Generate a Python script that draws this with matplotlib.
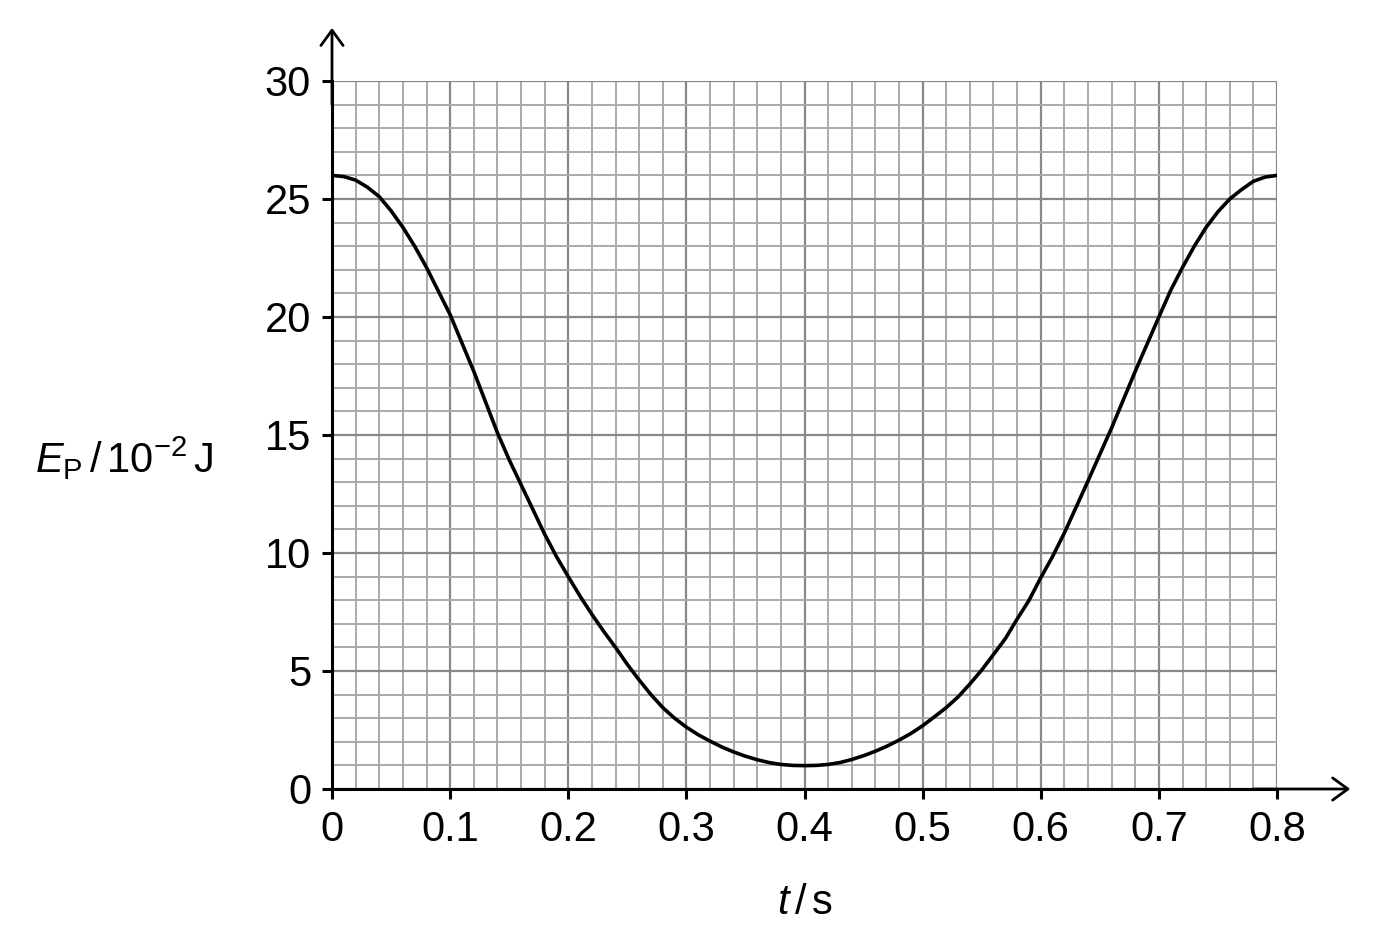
import matplotlib
matplotlib.use("Agg")
import matplotlib.pyplot as plt
from matplotlib.ticker import MultipleLocator

plt.rcParams['font.family'] = ['Liberation Sans', 'DejaVu Sans']
plt.rcParams['mathtext.fontset'] = 'custom'
plt.rcParams['mathtext.rm'] = 'Liberation Sans'
plt.rcParams['mathtext.it'] = 'Liberation Sans:italic'

# Data (t in s, Ep in 10^-2 J)
t_values = [0.00, 0.01, 0.02, 0.03, 0.04, 0.05, 0.06, 0.07, 0.08, 0.09,
            0.10, 0.11, 0.12, 0.13, 0.14, 0.15, 0.16, 0.17, 0.18, 0.19,
            0.20, 0.21, 0.22, 0.23, 0.24, 0.25, 0.26, 0.27, 0.28, 0.29,
            0.30, 0.31, 0.32, 0.33, 0.34, 0.35, 0.36, 0.37, 0.38, 0.39,
            0.40, 0.41, 0.42, 0.43, 0.44, 0.45, 0.46, 0.47, 0.48, 0.49,
            0.50, 0.51, 0.52, 0.53, 0.54, 0.55, 0.56, 0.57, 0.58, 0.59,
            0.60, 0.61, 0.62, 0.63, 0.64, 0.65, 0.66, 0.67, 0.68, 0.69,
            0.70, 0.71, 0.72, 0.73, 0.74, 0.75, 0.76, 0.77, 0.78, 0.79, 0.80]
ep_values = [26.0, 25.95, 25.8, 25.5, 25.1, 24.5, 23.8, 23.0, 22.1, 21.1,
             20.1, 18.9, 17.7, 16.4, 15.1, 13.95, 12.9, 11.85, 10.8, 9.85,
             9.0, 8.17, 7.4, 6.68, 6.0, 5.28, 4.62, 4.0, 3.45, 3.0,
             2.62, 2.3, 2.03, 1.78, 1.57, 1.39, 1.24, 1.12, 1.04, 1.0,
             0.99, 1.0, 1.04, 1.12, 1.25, 1.41, 1.6, 1.82, 2.07, 2.35,
             2.68, 3.06, 3.45, 3.9, 4.45, 5.04, 5.7, 6.37, 7.2, 7.99,
             8.95, 9.85, 10.85, 11.95, 13.05, 14.18, 15.3, 16.5, 17.7, 18.85,
             20.0, 21.13, 22.1, 23.0, 23.8, 24.46, 25.0, 25.4, 25.75, 25.93, 26.0]
x_ticks = [0, 0.1, 0.2, 0.3, 0.4, 0.5, 0.6, 0.7, 0.8]
x_ticklabels = ['0', '0.1', '0.2', '0.3', '0.4', '0.5', '0.6', '0.7', '0.8']
y_ticks = [0, 5, 10, 15, 20, 25, 30]
y_ticklabels = ['0', '5', '10', '15', '20', '25', '30']

W, H = 1384, 952
fig = plt.figure(figsize=(W / 100, H / 100), dpi=100)
ax = fig.add_axes([332 / W, 1 - 789 / H, (1277 - 332) / W, (789 - 81) / H])

ax.set_xlim(0, 0.8)
ax.set_ylim(0, 30)

ax.xaxis.set_minor_locator(MultipleLocator(0.02))
ax.yaxis.set_minor_locator(MultipleLocator(1))
ax.set_xticks(x_ticks)
ax.set_xticklabels(x_ticklabels)
ax.set_yticks(y_ticks)
ax.set_yticklabels(y_ticklabels)

ax.grid(which='minor', color='#aaaaaa', linewidth=1.4, zorder=0)
ax.grid(which='major', color='#888888', linewidth=1.6, zorder=0)
ax.set_axisbelow(True)

for s in ['top', 'right']:
    ax.spines[s].set_visible(False)
for s in ['left', 'bottom']:
    ax.spines[s].set_linewidth(2.2)
    ax.spines[s].set_color('black')
    ax.spines[s].set_zorder(5)

ax.tick_params(which='major', direction='out', length=7, width=2.2,
               labelsize=30, color='black')
ax.tick_params(which='minor', length=0)
ax.tick_params(axis='x', pad=8)
ax.tick_params(axis='y', pad=8)

ax.plot(t_values, ep_values, color='black', linewidth=2.6, zorder=4,
        solid_capstyle='round', solid_joinstyle='round')

# axis arrows
arrow_style = '->,head_length=1.1,head_width=0.8'
ax.annotate('', xy=(0, 32.25), xytext=(0, 29.0), annotation_clip=False,
            arrowprops=dict(arrowstyle=arrow_style,
                            lw=2.0, color='black', shrinkA=0, shrinkB=0))
ax.annotate('', xy=(0.862, 0), xytext=(0.78, 0), annotation_clip=False,
            arrowprops=dict(arrowstyle=arrow_style,
                            lw=2.0, color='black', shrinkA=0, shrinkB=0))

fig.text(35 / W, 1 - 458 / H,
         r'$E_{\mathrm{P}}\,/\,10^{-2}\,\mathrm{J}$',
         fontsize=30, ha='left', va='center')
fig.text(805 / W, 1 - 903 / H, r'$t\,/\,\mathrm{s}$', fontsize=30,
         ha='center', va='center')

fig.savefig('out.png', dpi=100)
